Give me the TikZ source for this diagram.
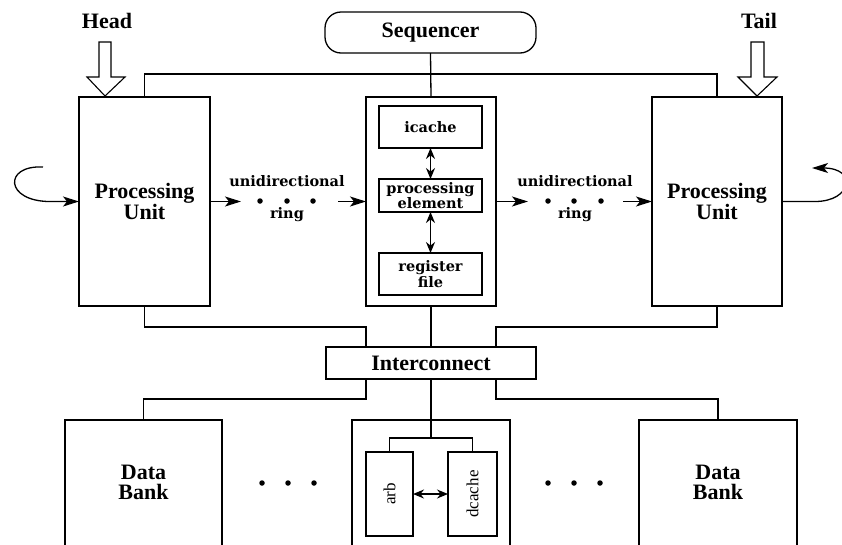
\documentclass[tikz,border=0pt]{standalone}
\usepackage{fontspec}
\setmainfont{Liberation Serif}
\newfontfamily\dvs{DejaVu Serif}
\usetikzlibrary{arrows.meta}
\tikzset{
 arr/.style={-{Stealth[length=16pt,width=10pt,inset=4pt]}},
 darr/.style={{Stealth[length=11pt,width=9pt]}-{Stealth[length=11pt,width=9pt]}}
}
\begin{document}
\begin{tikzpicture}[x=1pt,y=-1pt, line width=1.3pt,
 box/.style={draw, inner sep=0pt, outer sep=0pt},
 big/.style={font=\bfseries\fontsize{22}{20}\selectfont, align=center, inner sep=0pt},
 small/.style={font=\dvs\bfseries\fontsize{14.5}{15.5}\selectfont, align=center, inner sep=0pt},
 rm/.style={font=\fontsize{17}{17}\selectfont, rotate=90, inner sep=0pt},
 dotn/.style={circle, fill, inner sep=0pt, minimum size=5.5pt}]

\useasboundingbox (0,0) rectangle (842,544);
\clip (0,0) rectangle (842,544);

% processing units and central PE box
\node[box, minimum width=131pt, minimum height=209pt, big] (pul) at (144.5,201.5) {Processing\\Unit};
\node[box, minimum width=130pt, minimum height=209pt] (cb) at (431,201.5) {};
\node[box, minimum width=130pt, minimum height=209pt, big] (pur) at (717,201.5) {Processing\\Unit};

% sequencer and interconnect
\node[box, rounded corners=16pt, minimum width=211pt, minimum height=41pt, big] (seq) at (430.5,32.5) {Sequencer};
\node[box, minimum width=210pt, minimum height=32pt, big] (ic) at (431,363) {Interconnect};

% inside PE box
\node[box, minimum width=103pt, minimum height=42pt, small] (icache) at (430.5,127) {icache};
\node[box, minimum width=103pt, minimum height=33pt, small] (pe) at (430.5,195.5) {processing\\element};
\node[box, minimum width=103pt, minimum height=42pt, small] (rf) at (430.5,274) {register\\file};
\draw[darr] (icache.south) -- (pe.north);
\draw[darr] (pe.south) -- (rf.north);

% data banks
\node[box, minimum width=157pt, minimum height=140pt] (dbl) at (143.5,490) {};
\node[big] (dblt) at (143.5,482) {Data\\Bank};
\node[box, minimum width=158pt, minimum height=140pt] (dbr) at (718,490) {};
\node[big] (dbrt) at (718,482) {Data\\Bank};
\node[box, minimum width=158pt, minimum height=140pt] (cb2) at (431,490) {};
\node[box, minimum width=47pt, minimum height=84pt] (arb) at (389.5,494) {};
\node[rm] (arbt) at (arb) {arb};
\node[box, minimum width=49pt, minimum height=84pt] (dc) at (472.5,494) {};
\node[rm] (dct) at (dc) {dcache};
\draw[darr] (arb.east) -- (dc.west);

% top bus
\coordinate (bus) at (431,74);
\draw (seq.south) -- (cb.north);
\draw (pul.north) |- (bus) -| (pur.north);

% bottom connections
\draw (pul.south) -- ++(0,21) -| ([xshift=-65pt]ic.north);
\draw (pur.south) -- ++(0,21) -| ([xshift=65pt]ic.north);
\draw (cb.south) -- (ic.north);
\draw ([xshift=-65pt]ic.south) -- ++(0,20) -| (dbl.north);
\draw ([xshift=65pt]ic.south) -- ++(0,20) -| (dbr.north);
\draw (ic.south) -- (cb2.north);
\draw (cb2.north) -- ++(0,18) coordinate (split);
\draw (arb.north) |- (split) -| (dc.north);

% head / tail block arrows
\node[big] (head) at (107,21) {Head};
\node[big] (tail) at (759,21) {Tail};
\draw[line width=1.1pt, fill=white] (99,42) -- (111,42) -- (111,77) -- (125,77) -- (105,96) -- (87,77) -- (99,77) -- cycle;
\draw[line width=1.1pt, fill=white] (751,42) -- (764,42) -- (764,77) -- (777,77) -- (757,96) -- (738,77) -- (751,77) -- cycle;

% loops
\coordinate (lstart) at (43,167);
\draw[arr] (lstart) .. controls (3,165) and (5,201.5) .. (50,201.5) -- (pul.west);
\coordinate (rend) at (812,168);
\draw[arr] (pur.east) -- (815,201.5) .. controls (852,201.5) and (858,168) .. (rend);

% rings
\draw[arr] (pul.east) -- ++(31,0) coordinate (a1);
\node[dotn] (d1) at (260,201) {};
\node[dotn] (d2) at (287,201) {};
\node[dotn] (d3) at (313,201) {};
\coordinate (a2) at (338,201.5);
\draw[arr] (a2) -- (cb.west);
\node[small] (u1) at (287,181) {unidirectional};
\node[small] (r1) at (287,214.5) {ring};

\draw[arr] (cb.east) -- ++(32,0) coordinate (a3);
\node[dotn] (d4) at (548,201) {};
\node[dotn] (d5) at (574,201) {};
\node[dotn] (d6) at (601,201) {};
\coordinate (a4) at (623,201.5);
\draw[arr] (a4) -- (pur.west);
\node[small] (u2) at (575,181) {unidirectional};
\node[small] (r2) at (575,214.5) {ring};

% bottom dots
\node[dotn] (e1) at (262,483) {};
\node[dotn] (e2) at (288,483) {};
\node[dotn] (e3) at (314,483) {};
\node[dotn] (e4) at (548,483) {};
\node[dotn] (e5) at (574,483) {};
\node[dotn] (e6) at (600,483) {};
\end{tikzpicture}
\end{document}
